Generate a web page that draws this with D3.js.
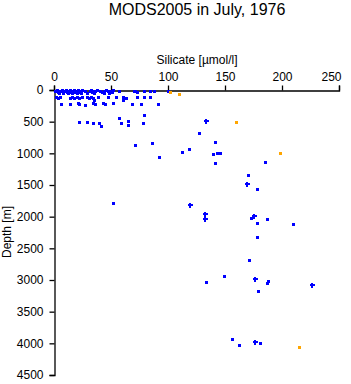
<!DOCTYPE html>
<html>
<head>
<meta charset="utf-8">
<script src="https://cdn.jsdelivr.net/npm/d3@7"></script>
<style>
  body { margin: 0; background: #fff; }
  text { font-family: "Liberation Sans", Arial, sans-serif; fill: #000; }
</style>
</head>
<body>
<div id="chart"></div>
<script>
// silicate [umol/l] and depth [m]
const surfSi = [0.9, 1.8, 2.6, 3.5, 5.3, 6.1, 7.0, 7.9, 8.8, 9.6, 10.5, 11.4, 12.3, 13.2, 14.0, 14.9,
  15.8, 16.7, 17.5, 18.4, 19.3, 20.2, 21.0, 21.9, 22.8, 23.7, 24.6, 27.2, 31.6, 32.5, 33.3, 34.2,
  36.0, 37.7, 40.4, 42.1, 43.9, 45.6, 47.4, 49.1, 50.9, 51.8, 57.0, 70.2, 71.1, 72.8, 78.9, 84.2, 87.7, 100.0,
  4.0, 8.0, 12.0, 16.0, 20.0, 24.0, 29.0, 35.0, 44.0, 48.0];
const surfDepth = [10, 20, 0, 30, 10, 20, 0, 30, 10, 20, 0, 30, 10, 20, 0, 30,
  10, 20, 0, 30, 10, 20, 0, 30, 10, 20, 0, 10, 20, 0, 30, 10,
  20, 0, 10, 30, 20, 0, 10, 20, 30, 0, 10, 20, 10, 30, 20, 10, 20, 10,
  40, 40, 45, 40, 45, 40, 40, 45, 40, 45];

const upperSi = [1.8, 3.5, 5.3, 14.0, 15.8, 17.5, 20.2, 21.9, 24.6, 28.9, 30.7, 32.5, 34.2, 38.6,
  47.4, 54.4, 60.5, 63.2, 72.8, 78.9, 84.2, 35.1, 60.5,
  6.1, 14.0, 21.0, 21.9, 27.2, 34.2, 36.0, 43.0, 44.7, 51.8, 68.4, 76.3, 91.2];
const upperDepth = [110, 125, 110, 120, 110, 125, 110, 120, 115, 110, 125, 110, 120, 115,
  110, 115, 110, 125, 115, 110, 115, 158, 158,
  220, 220, 210, 225, 230, 200, 220, 210, 225, 210, 215, 215, 215];

const deepSi = [22.2, 28.7, 34.5, 39.7, 41.5, 57.3, 59.0, 65.2, 65.2, 78.3, 79.2, 71.3, 86.2, 92.4,
  112.5, 118.4, 127.0, 141.5, 139.2, 142.7, 145.6, 141.5, 185.4, 170.4, 178.3, 51.5,
  172.5, 187.1, 178.3, 209.9, 178.3, 171.3, 149.4, 133.6, 188.0, 187.1, 179.2,
  156.4, 162.5, 181.0];
const deepDepth = [501, 501, 517, 517, 573, 447, 526, 490, 545, 526, 400, 864, 833, 1054,
  984, 932, 684, 826, 1011, 990, 1000, 1148, 1142, 1348, 1569, 1790,
  2017, 2043, 2106, 2117, 2327, 2686, 2943, 3028, 3022, 3054, 3180,
  3934, 4028, 4002];

// samples drawn with the cross marker
const crossSi = [133.3, 169.0, 119.3, 132.5, 132.5, 175.4, 176.3, 226.0, 176.3];
const crossDepth = [490, 1490, 1822, 1964, 2043, 1995, 2991, 3081, 3986];

// flagged samples (orange)
const flagSi = [102.0, 109.6, 160.0, 198.2, 215.2];
const flagDepth = [36, 63, 501, 1000, 4060];

const xTicks = [0, 50, 100, 150, 200, 250];
const yTicks = [0, 500, 1000, 1500, 2000, 2500, 3000, 3500, 4000, 4500];

const W = 351, H = 384;
const svg = d3.select("#chart").append("svg")
  .attr("width", W).attr("height", H);

const x = d3.scaleLinear().domain([0, 250]).range([54, 339]);
const y = d3.scaleLinear().domain([0, 4500]).range([90, 375]);

// title
svg.append("text")
  .attr("x", 197).attr("y", 15)
  .attr("text-anchor", "middle")
  .style("font-size", "16px")
  .text("MODS2005 in July, 1976");

// x axis on top
const gx = svg.append("g")
  .attr("transform", "translate(0,90.5)")
  .call(d3.axisTop(x).tickValues(xTicks).tickSize(5).tickPadding(5).tickFormat(d3.format("d")));
gx.selectAll("text").style("font-size", "12px");
gx.selectAll(".tick text").filter(d => d === 250).attr("text-anchor", "end").attr("dx", 2);

svg.append("text")
  .attr("x", 197).attr("y", 64)
  .attr("text-anchor", "middle")
  .style("font-size", "12px")
  .text("Silicate [\u00b5mol/l]");

// y axis
const gy = svg.append("g")
  .attr("transform", "translate(54.5,0)")
  .call(d3.axisLeft(y).tickValues(yTicks).tickSize(5).tickPadding(6).tickFormat(d3.format("d")));
gy.selectAll("text").style("font-size", "12px");

svg.selectAll(".domain").attr("stroke", "#000").attr("stroke-width", 1.3);
svg.selectAll(".tick line").attr("stroke", "#000").attr("stroke-width", 1.3);

svg.append("text")
  .attr("transform", "translate(11,232) rotate(-90)")
  .attr("text-anchor", "middle")
  .style("font-size", "12px")
  .text("Depth [m]");

// points
function squares(si, dep, color) {
  svg.append("g").selectAll("rect")
    .data(d3.zip(si, dep))
    .join("rect")
    .attr("x", d => Math.round(x(d[0])) - 1.5)
    .attr("y", d => Math.round(y(d[1])) - 1.5)
    .attr("width", 3).attr("height", 3)
    .attr("fill", color)
    .attr("shape-rendering", "crispEdges");
}
squares(surfSi, surfDepth, "#0000ff");
squares(upperSi, upperDepth, "#0000ff");
squares(deepSi, deepDepth, "#0000ff");
squares(flagSi, flagDepth, "#ffa500");

// small plus markers: a horizontal and a vertical bar
const crossG = svg.append("g").selectAll("g")
  .data(d3.zip(crossSi, crossDepth))
  .join("g")
  .attr("transform", d => `translate(${Math.round(x(d[0]))},${Math.round(y(d[1]))})`);
crossG.append("rect").attr("x", -2).attr("y", -1).attr("width", 5).attr("height", 2)
  .attr("fill", "#0000ff").attr("shape-rendering", "crispEdges");
crossG.append("rect").attr("x", -1).attr("y", -2).attr("width", 2).attr("height", 5)
  .attr("fill", "#0000ff").attr("shape-rendering", "crispEdges");
</script>
</body>
</html>
